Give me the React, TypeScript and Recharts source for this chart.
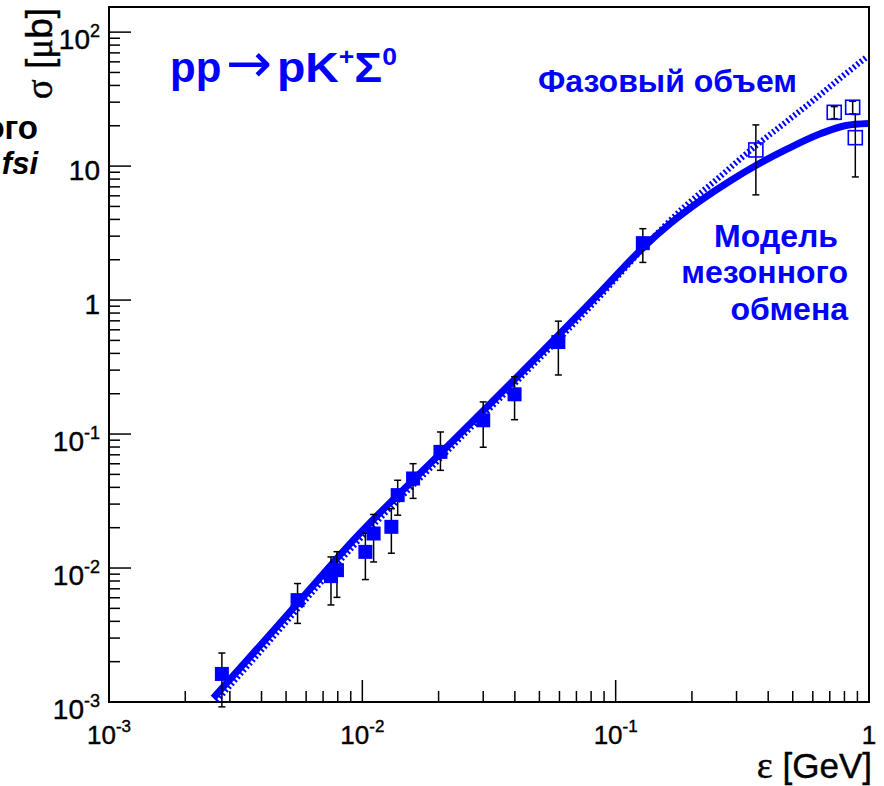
import React from 'react';
import { ComposedChart, Line, Scatter, XAxis, YAxis, ErrorBar, ReferenceArea } from 'recharts';

// ---- data ----
const modelX = [0.00258, 0.00361, 0.00569, 0.00924, 0.0203, 0.0421, 0.0872, 0.1279, 0.165, 0.2168, 0.2848, 0.3576, 0.4785, 0.6459, 0.811, 0.991];
const modelY = [0.00107, 0.00218, 0.00576, 0.0162, 0.0716, 0.283, 1.15, 2.45, 3.75, 5.54, 7.81, 10.1, 13.5, 17.5, 20.1, 20.8];

const phaseX = [0.00265, 0.00361, 0.00569, 0.00924, 0.0203, 0.0421, 0.0872, 0.1279, 0.1857, 0.2531, 0.3576, 0.4785, 0.6287, 0.775, 0.973];
const phaseY = [0.00102, 0.00196, 0.00522, 0.0147, 0.066, 0.264, 1.08, 2.42, 4.91, 8.08, 14.2, 21.9, 33.0, 45.8, 64.5];

const filledX = [0.00279, 0.00555, 0.00752, 0.00794, 0.01028, 0.01108, 0.01302, 0.01379, 0.01586, 0.02034, 0.030, 0.0399, 0.0594, 0.128];
const filledY = [0.00162, 0.00576, 0.0087, 0.00964, 0.0132, 0.0181, 0.0203, 0.035, 0.0466, 0.0736, 0.1267, 0.198, 0.486, 2.66];
const filledErrLow = [0.0007, 0.0019, 0.0034, 0.0036, 0.005, 0.007, 0.0074, 0.0102, 0.0135, 0.02, 0.047, 0.07, 0.21, 0.75];
const filledErrHigh = [0.0007, 0.0019, 0.0034, 0.0036, 0.005, 0.007, 0.0074, 0.0102, 0.0135, 0.03, 0.047, 0.07, 0.21, 0.75];

const openX = [0.3576, 0.729, 0.862, 0.883];
const openY = [13.2, 25.2, 27.5, 16.3];
const openErr = [7.1, 2.6, 3.0, 8.0];

const xMajorTicks = [0.001, 0.01, 0.1, 1];
const xTickLabels = [['10', '-3'], ['10', '-2'], ['10', '-1'], ['1', '']];
const yMajorTicks = [0.001, 0.01, 0.1, 1, 10, 100];
const yTickLabels = [['10', '-3'], ['10', '-2'], ['10', '-1'], ['1', ''], ['10', ''], ['10', '2']];
const Y_TOP = 154;

const BLUE = '#0000ff';
const TICK_FONT = "'Liberation Sans', Arial, sans-serif";
const SANS = "'Liberation Sans', Arial, sans-serif";
const SERIF = "'Liberation Serif', 'Times New Roman', serif";

function withMinors(majors: number[], top: number) {
  const out: number[] = [];
  majors.forEach((m) => {
    out.push(m);
    for (let k = 2; k <= 9; k++) {
      const v = m * k;
      if (v < top * 0.999) out.push(v);
    }
  });
  return out.filter((v) => v <= top);
}
const xTicks = withMinors(xMajorTicks, 1);
const yTicks = withMinors(yMajorTicks, Y_TOP);

const majorIndex = (majors: number[], v: number) => majors.findIndex((m) => Math.abs(m - v) / m < 1e-6);

const modelData = modelX.map((x, i) => ({ x, y: modelY[i] }));
const phaseData = phaseX.map((x, i) => ({ x, y: phaseY[i] }));
const filledData = filledX.map((x, i) => ({ x, y: filledY[i], err: [filledErrLow[i], filledErrHigh[i]] }));
const openData = openX.map((x, i) => ({ x, y: openY[i], err: openErr[i] }));

function XTick(props: any) {
  const { x, y, payload } = props;
  const idx = majorIndex(xMajorTicks, payload.value);
  const major = idx >= 0;
  return (
    <g>
      <line x1={x} x2={x} y1={y} y2={y - (major ? 22 : 11)} stroke="#000" strokeWidth={1.5} />
      {major && (
        <text x={x} y={y + 42} textAnchor="middle" fontFamily={TICK_FONT} fontSize={26} fill="#000" stroke="#000" strokeWidth={0.4}>
          {xTickLabels[idx][0]}
          {xTickLabels[idx][1] && (
            <tspan dy={-12} fontSize={17}>{xTickLabels[idx][1]}</tspan>
          )}
        </text>
      )}
    </g>
  );
}

function YTick(props: any) {
  const { x, y, payload } = props;
  const idx = majorIndex(yMajorTicks, payload.value);
  const major = idx >= 0;
  const hasExp = major && yTickLabels[idx][1] !== '';
  return (
    <g>
      <line x1={x} x2={x + (major ? 22 : 11)} y1={y} y2={y} stroke="#000" strokeWidth={1.5} />
      {major && (
        <text x={x - 9} y={y + (hasExp ? 17 : 14)} textAnchor="end" fontFamily={TICK_FONT} fontSize={28} fill="#000" stroke="#000" strokeWidth={0.4}>
          {yTickLabels[idx][0]}
          {hasExp && (
            <tspan dy={-12} fontSize={18}>{yTickLabels[idx][1]}</tspan>
          )}
        </text>
      )}
    </g>
  );
}

const FilledSquare = (p: any) => (
  <rect x={p.cx - 7} y={p.cy - 7} width={14} height={14} fill={BLUE} />
);
const OpenSquare = (p: any) => (
  <rect x={p.cx - 7} y={p.cy - 7} width={14} height={14} fill="none" stroke={BLUE} strokeWidth={1.6} />
);

export default function App() {
  return (
    <div style={{ position: 'absolute', left: 0, top: 0, width: 884, height: 786, background: '#fff' }}>
      <ComposedChart
        width={884}
        height={786}
        margin={{ top: 7, right: 15, left: 49, bottom: 54 }}
      >
        <XAxis
          type="number"
          dataKey="x"
          scale="log"
          domain={[0.001, 1]}
          allowDataOverflow
          ticks={xTicks}
          interval={0}
          tick={<XTick />}
          tickLine={false}
          axisLine={false}
          tickSize={0}
          tickMargin={0}
          height={30}
        />
        <YAxis
          type="number"
          dataKey="y"
          scale="log"
          domain={[0.001, Y_TOP]}
          allowDataOverflow
          ticks={yTicks}
          interval={0}
          tick={<YTick />}
          tickLine={false}
          axisLine={false}
          tickSize={0}
          tickMargin={0}
          width={60}
        />
        <Line
          data={phaseData}
          dataKey="y"
          type="monotone"
          stroke={BLUE}
          strokeWidth={6}
          strokeDasharray="2 2.5"
          dot={false}
          activeDot={false}
          isAnimationActive={false}
        />
        <Line
          data={modelData}
          dataKey="y"
          type="monotone"
          stroke={BLUE}
          strokeWidth={7}
          dot={false}
          activeDot={false}
          isAnimationActive={false}
        />
        <Scatter data={filledData} dataKey="y" shape={FilledSquare} isAnimationActive={false}>
          <ErrorBar dataKey="err" direction="y" width={3.5} stroke="#000" strokeWidth={1.5} />
        </Scatter>
        <Scatter data={openData} dataKey="y" shape={OpenSquare} isAnimationActive={false}>
          <ErrorBar dataKey="err" direction="y" width={3.5} stroke="#000" strokeWidth={1.5} />
        </Scatter>
        <ReferenceArea x1={0.001} x2={1} y1={0.001} y2={Y_TOP} fill="none" stroke="#000" strokeWidth={2} ifOverflow="visible" />
      </ComposedChart>
      <svg width={884} height={786} style={{ position: 'absolute', left: 0, top: 0, pointerEvents: 'none' }}>
        <text x={170} y={82} fontFamily={SANS} fontWeight="bold" fontSize={42} fill={BLUE}>pp</text>
        <text x={226} y={82} fontFamily="'DejaVu Sans', sans-serif" fontSize={55} fill={BLUE}>→</text>
        <text x={277} y={82} fontFamily={SANS} fontWeight="bold" fontSize={42} fill={BLUE} textLength={120} lengthAdjust="spacingAndGlyphs">
          pK<tspan dy={-17} fontSize={24}>+</tspan><tspan dy={17}>Σ</tspan><tspan dy={-17} fontSize={24}>0</tspan>
        </text>
        <text x={538} y={92} fontFamily={SANS} fontWeight="bold" fontSize={32} fill={BLUE}>Фазовый объем</text>
        <text x={838} y={247} textAnchor="end" fontFamily={SANS} fontWeight="bold" fontSize={32} fill={BLUE}>Модель</text>
        <text x={848} y={283} textAnchor="end" fontFamily={SANS} fontWeight="bold" fontSize={32} fill={BLUE}>мезонного</text>
        <text x={848} y={320} textAnchor="end" fontFamily={SANS} fontWeight="bold" fontSize={32} fill={BLUE}>обмена</text>
        <text x={38} y={139} textAnchor="end" fontFamily={SANS} fontWeight="bold" fontSize={33} fill="#000">ого</text>
        <text x={38} y={174} textAnchor="end" fontFamily={SANS} fontWeight="bold" fontStyle="italic" fontSize={31} fill="#000">fsi</text>
        <text x={872} y={778} textAnchor="end" fontFamily={SANS} fontSize={35} fill="#000" stroke="#000" strokeWidth={0.4}>
          <tspan fontFamily={SERIF} fontSize={38}>ε</tspan> [GeV]
        </text>
        <text transform="translate(52, 8) rotate(-90)" textAnchor="end" fontFamily={SANS} fontSize={37} fill="#000" stroke="#000" strokeWidth={0.4}>
          <tspan fontFamily={SERIF}>σ</tspan> [<tspan fontFamily={SERIF}>μ</tspan>b]
        </text>
      </svg>
    </div>
  );
}
